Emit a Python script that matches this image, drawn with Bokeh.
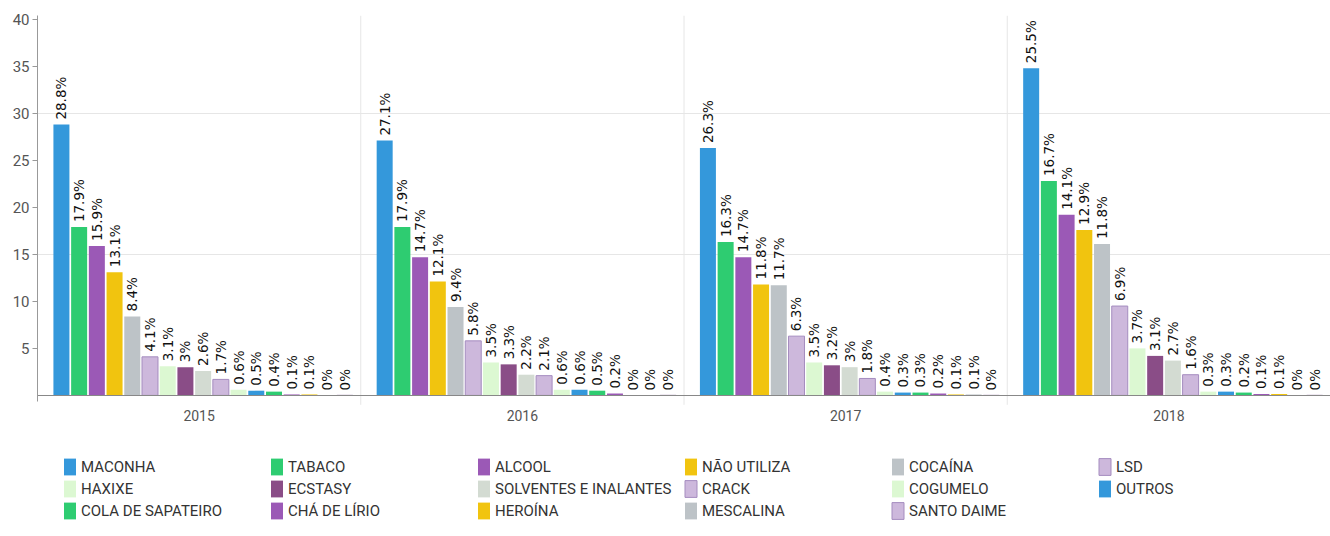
import math
from bokeh.plotting import figure
from bokeh.models import (FactorRange, Range1d, FixedTicker, Legend, LegendItem,
                          ColumnDataSource, CategoricalAxis)
from bokeh.transform import dodge
from bokeh.core.properties import value
from bokeh.embed import file_html
from bokeh.resources import INLINE

years = ["2015", "2016", "2017", "2018"]
drugs = ["MACONHA", "TABACO", "ALCOOL", "NÃO UTILIZA", "COCAÍNA", "LSD",
         "HAXIXE", "ECSTASY", "SOLVENTES E INALANTES", "CRACK", "COGUMELO", "OUTROS",
         "COLA DE SAPATEIRO", "CHÁ DE LÍRIO", "HEROÍNA", "MESCALINA", "SANTO DAIME"]

# percentage labels shown above the bars
pct_2015 = [28.8, 17.9, 15.9, 13.1, 8.4, 4.1, 3.1, 3, 2.6, 1.7, 0.6, 0.5, 0.4, 0.1, 0.1, 0, 0]
pct_2016 = [27.1, 17.9, 14.7, 12.1, 9.4, 5.8, 3.5, 3.3, 2.2, 2.1, 0.6, 0.6, 0.5, 0.2, 0, 0, 0]
pct_2017 = [26.3, 16.3, 14.7, 11.8, 11.7, 6.3, 3.5, 3.2, 3, 1.8, 0.4, 0.3, 0.3, 0.2, 0.1, 0.1, 0]
pct_2018 = [25.5, 16.7, 14.1, 12.9, 11.8, 6.9, 3.7, 3.1, 2.7, 1.6, 0.3, 0.3, 0.2, 0.1, 0.1, 0, 0]

# bar heights as drawn
h_2015 = [28.8, 17.9, 15.9, 13.1, 8.4, 4.1, 3.1, 3, 2.6, 1.7, 0.6, 0.5, 0.4, 0.1, 0.1, 0, 0]
h_2016 = [27.1, 17.9, 14.7, 12.1, 9.4, 5.8, 3.5, 3.3, 2.2, 2.1, 0.6, 0.6, 0.5, 0.2, 0, 0, 0]
h_2017 = [26.3, 16.3, 14.7, 11.8, 11.7, 6.3, 3.5, 3.2, 3, 1.8, 0.4, 0.3, 0.3, 0.2, 0.1, 0.1, 0]
h_2018 = [34.8, 22.8, 19.2, 17.6, 16.1, 9.5, 5.0, 4.2, 3.7, 2.2, 0.4, 0.4, 0.3, 0.15, 0.15, 0, 0]

y_ticks = [5, 10, 15, 20, 25, 30, 35, 40]
grid_ticks = [15, 30]
boundary_years = ["2015", "2016", "2017"]   # category separators sit right of these

colors = ["#3498db", "#2ecc71", "#9b59b6", "#f1c40f", "#bdc3c7", "#cdb8dc",
          "#dcf8d2", "#8a4d87", "#d3dbd2", "#cdb8dc", "#dcf8d2", "#3498db",
          "#2ecc71", "#9b59b6", "#f1c40f", "#bdc3c7", "#cdb8dc"]
borders = [None, None, None, None, None, "#a58cbf",
           None, None, None, "#a58cbf", None, None,
           None, None, None, None, "#a58cbf"]

pct = [pct_2015, pct_2016, pct_2017, pct_2018]
hts = [h_2015, h_2016, h_2017, h_2018]

FONT = "Roboto"
Y_TOP = 40.4
Y_BOTTOM = -14.9   # room under the baseline for the year labels and the legend

p = figure(x_range=FactorRange(*years, range_padding=0), y_range=Range1d(Y_BOTTOM, Y_TOP),
           width=1330, height=535, output_backend="svg", x_axis_location=None,
           toolbar_location=None, min_border_left=37, min_border_right=0,
           min_border_top=15, min_border_bottom=0, outline_line_color=None)

step = 0.0548
start = -0.426
bar_w = 0.0495

# category separators (vertical grid lines between the years)
sep = ColumnDataSource(dict(year=boundary_years))
p.segment(x0=dodge("year", 0.5, range=p.x_range), y0=-1.0,
          x1=dodge("year", 0.5, range=p.x_range), y1=Y_TOP,
          source=sep, line_color="#e6e6e6", line_width=1)

renderers = []
for i, d in enumerate(drugs):
    src = ColumnDataSource(dict(
        year=years,
        h=[hts[k][i] for k in range(4)],
        lab=[("%g%%" % pct[k][i]) for k in range(4)],
    ))
    off = start + i * step
    r = p.vbar(x=dodge("year", off, range=p.x_range), top="h", width=bar_w, source=src,
               fill_color=colors[i], line_color=borders[i] if borders[i] else None,
               line_width=1)
    p.text(x=dodge("year", off, range=p.x_range), y="h", text="lab", source=src,
           angle=math.pi / 2, text_align="left", text_baseline="middle",
           y_offset=-5, text_font=value("DejaVu Sans"), text_font_size="13.5px",
           text_color="#111111")
    renderers.append(r)

p.xgrid.grid_line_color = None
p.ygrid.ticker = FixedTicker(ticks=grid_ticks)
p.ygrid.grid_line_color = "#e6e6e6"

p.yaxis.ticker = FixedTicker(ticks=y_ticks)
p.yaxis.bounds = (-0.6, Y_TOP)
p.yaxis.axis_line_color = "#999999"
p.yaxis.major_tick_line_color = "#999999"
p.yaxis.major_tick_out = 5
p.yaxis.major_tick_in = 0
p.yaxis.minor_tick_line_color = None
p.yaxis.major_label_standoff = 3
p.yaxis.major_label_text_font = FONT
p.yaxis.major_label_text_font_size = "15px"
p.yaxis.major_label_text_color = "#555555"

xaxis = CategoricalAxis(fixed_location=0)
xaxis.axis_line_color = "#888888"
xaxis.major_tick_line_color = None
xaxis.minor_tick_line_color = None
xaxis.major_label_standoff = 9
xaxis.major_label_text_font = FONT
xaxis.major_label_text_font_size = "14px"
xaxis.major_label_text_color = "#555555"
p.add_layout(xaxis, "below")

# legend: 3 rows x 6 columns, filled column by column in this order so that
# the rows read MACONHA, TABACO, ALCOOL, ... as in the original
ncol = 6
order = []
for c in range(ncol):
    for r_ in range(3):
        k = r_ * ncol + c
        if k < len(drugs):
            order.append(k)
items = [LegendItem(label=drugs[k], renderers=[renderers[k]]) for k in order]
legend = Legend(items=items, orientation="vertical", nrows=3, location=(25, 14),
                glyph_width=15, glyph_height=21, label_height=21, label_width=187,
                label_standoff=4, spacing=1, padding=0, margin=0,
                label_text_font=FONT, label_text_font_size="15px",
                label_text_color="#333333", border_line_color=None,
                background_fill_alpha=0)
p.add_layout(legend)

open("out.html", "w").write(file_html(p, INLINE))
